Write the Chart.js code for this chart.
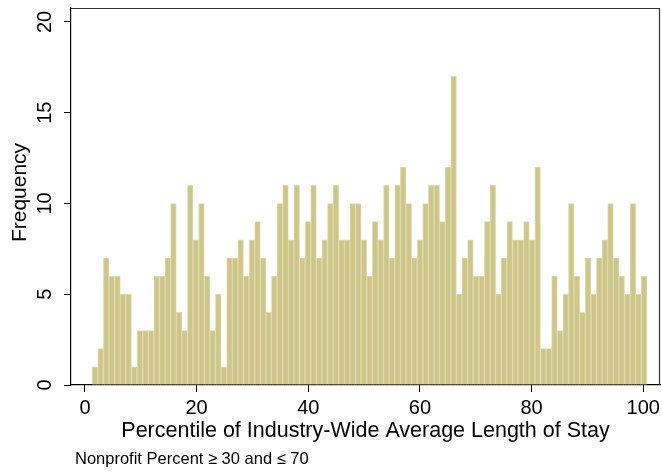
<!DOCTYPE html>
<html>
<head>
<meta charset="utf-8">
<script src="https://cdn.jsdelivr.net/npm/chart.js@4/dist/chart.umd.min.js"></script>
<style>
  html, body { margin: 0; padding: 0; background: #ffffff; }
  #wrap { width: 662px; height: 472px; }
</style>
</head>
<body>
<div id="wrap"><canvas id="hist" width="662" height="472"></canvas></div>
<script>
// Frequency per percentile bin (99 bins of width ~1)
const frequencies = [
  1, 2, 7, 6, 6, 5, 5, 1, 3, 3, 3, 6, 6, 7, 10, 4, 3, 11, 8, 10,
  6, 3, 5, 1, 7, 7, 8, 6, 8, 9, 7, 4, 6, 10, 11, 8, 11, 7, 9, 11,
  7, 8, 10, 11, 8, 8, 10, 10, 8, 6, 9, 8, 11, 7, 11, 12, 10, 7, 8, 10,
  11, 11, 9, 12, 17, 5, 7, 8, 6, 6, 9, 11, 5, 7, 9, 8, 8, 9, 8, 12,
  2, 2, 6, 3, 5, 10, 6, 4, 7, 5, 7, 8, 10, 7, 6, 5, 10, 5, 6
];
const binStart = 1.3;
const binWidth = 1.0036;
const xTickLabels = [0, 20, 40, 60, 80, 100];
const yTickLabels = [0, 5, 10, 15, 20];
const xTitle = 'Percentile of Industry-Wide Average Length of Stay';
const yTitle = 'Frequency';
const note = 'Nonprofit Percent \u2265 30 and \u2264 70';

const points = frequencies.map((f, i) => ({ x: binStart + binWidth * (i + 0.5), y: f }));

const FONT = '"Liberation Sans", Arial, Helvetica, sans-serif';

// Draws the frame, rotated y labels, axis titles and the note
const textPlugin = {
  id: 'stataText',
  afterDraw(chart) {
    const ctx = chart.ctx;
    const a = chart.chartArea;
    const xs = chart.scales.x, ys = chart.scales.y;
    ctx.save();
    // top and right edges of the plot region
    ctx.strokeStyle = '#333333';
    ctx.lineWidth = 1.2;
    ctx.beginPath();
    ctx.moveTo(a.left, a.top + 0.5);
    ctx.lineTo(a.right - 0.5, a.top + 0.5);
    ctx.lineTo(a.right - 0.5, a.bottom);
    ctx.stroke();

    ctx.fillStyle = '#000000';
    // x tick labels
    ctx.font = '20px ' + FONT;
    ctx.textAlign = 'center';
    ctx.textBaseline = 'alphabetic';
    xTickLabels.forEach(v => {
      ctx.fillText(String(v), xs.getPixelForValue(v), a.bottom + 29);
    });
    // y tick labels, rotated
    yTickLabels.forEach(v => {
      ctx.save();
      ctx.translate(a.left - 20, ys.getPixelForValue(v));
      ctx.rotate(-Math.PI / 2);
      ctx.fillText(String(v), 0, 0);
      ctx.restore();
    });
    // axis titles
    ctx.font = '21.5px ' + FONT;
    ctx.fillText(xTitle, (a.left + a.right) / 2, a.bottom + 52);
    ctx.font = '21px ' + FONT;
    ctx.save();
    ctx.translate(26, (a.top + a.bottom) / 2 - 4);
    ctx.rotate(-Math.PI / 2);
    ctx.fillText(yTitle, 0, 0);
    ctx.restore();
    // note
    ctx.font = '16.5px ' + FONT;
    ctx.textAlign = 'left';
    ctx.fillText(note, 75, 464);
    ctx.restore();
  }
};

const axisCommon = {
  type: 'linear',
  grid: {
    display: true,
    offset: false,
    drawOnChartArea: false,
    drawTicks: true,
    tickLength: 7,
    tickColor: '#000000',
    tickWidth: 1
  },
  border: { display: true, color: '#000000', width: 1.2 },
  ticks: { display: false }
};

new Chart(document.getElementById('hist'), {
  type: 'bar',
  data: {
    datasets: [{
      data: points,
      backgroundColor: 'rgb(205, 198, 136)',
      borderColor: 'rgb(224, 219, 172)',
      borderWidth: 1,
      barPercentage: 1,
      categoryPercentage: 1
    }]
  },
  options: {
    responsive: false,
    animation: false,
    devicePixelRatio: 1,
    layout: { padding: { top: 8, right: 2, left: 0, bottom: 0 } },
    plugins: { legend: { display: false }, tooltip: { enabled: false } },
    scales: {
      x: Object.assign({}, axisCommon, {
        min: -2.5, max: 103, offset: false,
        afterBuildTicks: s => { s.ticks = xTickLabels.map(v => ({ value: v })); },
        afterFit: s => { s.height = 87; }
      }),
      y: Object.assign({}, axisCommon, {
        min: 0, max: 20.77,
        afterBuildTicks: s => { s.ticks = yTickLabels.map(v => ({ value: v })); },
        afterFit: s => { s.width = 71; }
      })
    }
  },
  plugins: [textPlugin]
});
</script>
</body>
</html>
